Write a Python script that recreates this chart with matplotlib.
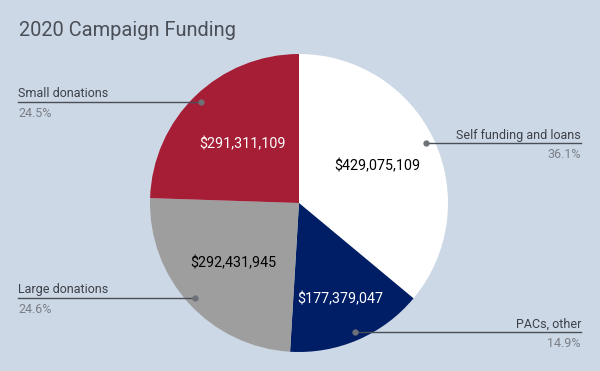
import numpy as np
import matplotlib.pyplot as plt

plt.rcParams['font.family'] = ['Roboto', 'DejaVu Sans']

labels = ["Self funding and loans", "PACs, other", "Large donations", "Small donations"]
amounts = [429075109, 177379047, 292431945, 291311109]
colors = ["#ffffff", "#001e66", "#9e9e9e", "#a51e36"]
text_colors = ["#000000", "#ffffff", "#000000", "#ffffff"]
value_r = [0.58, 0.70, 0.60, 0.55]

bg = "#cdd8e6"
W, H = 600, 371
cx, cy, R = 299, 371 - 203, 149

fig = plt.figure(figsize=(W / 100, H / 100), dpi=100, facecolor=bg)
ax = fig.add_axes([(cx - R) / W, (cy - R) / H, 2 * R / W, 2 * R / H])
ax.set_facecolor(bg)

wedges, _ = ax.pie(amounts, colors=colors, startangle=90, counterclock=False,
                   radius=1, wedgeprops=dict(linewidth=0))
ax.set_xlim(-1, 1)
ax.set_ylim(-1, 1)
ax.set_aspect('equal')
ax.axis('off')

total = sum(amounts)
left_x = (18 - cx) / R
right_x = (581 - cx) / R
for w, lab, amt, tc, vr in zip(wedges, labels, amounts, text_colors, value_r):
    mid = np.deg2rad((w.theta1 + w.theta2) / 2)
    ax.text(vr * np.cos(mid), vr * np.sin(mid), "${:,}".format(amt),
            ha='center', va='center', color=tc, fontsize=10.3)
    dx, dy = 0.945 * np.cos(mid), 0.945 * np.sin(mid)
    ex = right_x if dx > 0 else left_x
    ax.plot([dx, ex], [dy, dy], color="#4a4f57", lw=1, clip_on=False)
    ax.plot(dx, dy, 'o', ms=3.5, color="#6d7178", clip_on=False)
    ha = 'right' if dx > 0 else 'left'
    ax.text(ex, dy + 0.01, lab, ha=ha, va='bottom', color="#3c4048",
            fontsize=9, clip_on=False)
    ax.text(ex, dy - 0.035, "{:.1f}%".format(100 * amt / total), ha=ha, va='top',
            color="#7a7e86", fontsize=9, clip_on=False)

fig.text(19 / W, 1 - 31 / H, "2020 Campaign Funding", ha='left', va='center',
         fontsize=14.4, color="#4a4f57")

fig.savefig("out.png", dpi=100, facecolor=bg)
